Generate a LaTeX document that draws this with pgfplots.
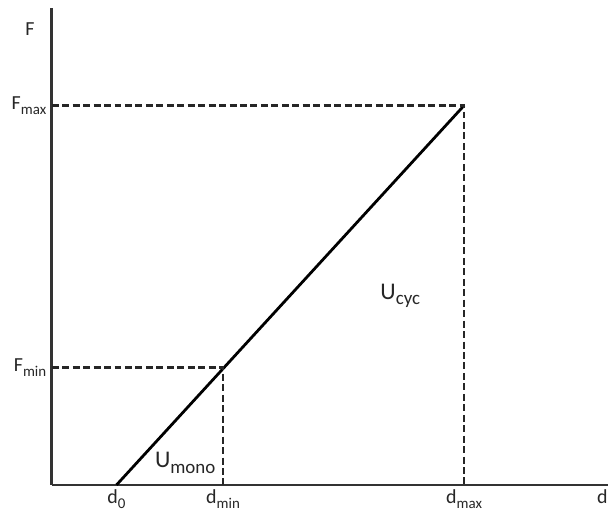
\documentclass[border=0pt]{standalone}
\usepackage{pgfplots}
\pgfplotsset{compat=1.18}
\usepackage{fontspec}
\setmainfont{Carlito}
\newcommand\sub[1]{\raisebox{-0.5ex}{\fontsize{15}{16}\selectfont #1}}
\begin{document}
\begin{tikzpicture}
\begin{axis}[
  scale only axis,
  width=559pt, height=479pt,
  xmin=52, xmax=611, ymin=0, ymax=479,
  axis x line=bottom, axis y line=left,
  axis line style={-, line width=2.8pt, color=black!80},
  clip=false,
  xtick={117,224,466,605},
  xticklabels={d\sub{0},d\sub{min},d\sub{max},d},
  ytick={118,381},
  yticklabels={F\sub{min},F\sub{max}},
  major tick length=0pt,
  tick label style={font=\fontsize{20}{22}\selectfont, text=black!85},
  xticklabel style={yshift=-1pt},
  yticklabel style={xshift=-2pt},
]
\addplot[black, line width=2.8pt] coordinates {(117,0) (466,381)};
\addplot[black!85, line width=2.6pt, dash pattern=on 7pt off 3.5pt] coordinates {(52,381) (466,381) (466,0)};
\addplot[black!85, line width=2.6pt, dash pattern=on 7pt off 3.5pt] coordinates {(52,118) (224,118) (224,0)};
\node[font=\fontsize{20}{22}\selectfont, text=black!85] at (axis cs:30,458) {F};
\node[font=\fontsize{24}{26}\selectfont, text=black!85] at (axis cs:402,190) {U\sub{\fontsize{19}{20}\selectfont cyc}};
\node[font=\fontsize{24}{26}\selectfont, text=black!85] at (axis cs:186,22) {U\sub{\fontsize{19}{20}\selectfont mono}};
\path[draw=none] (axis cs:0,-28) rectangle (axis cs:611,487);
\end{axis}
\end{tikzpicture}
\end{document}
